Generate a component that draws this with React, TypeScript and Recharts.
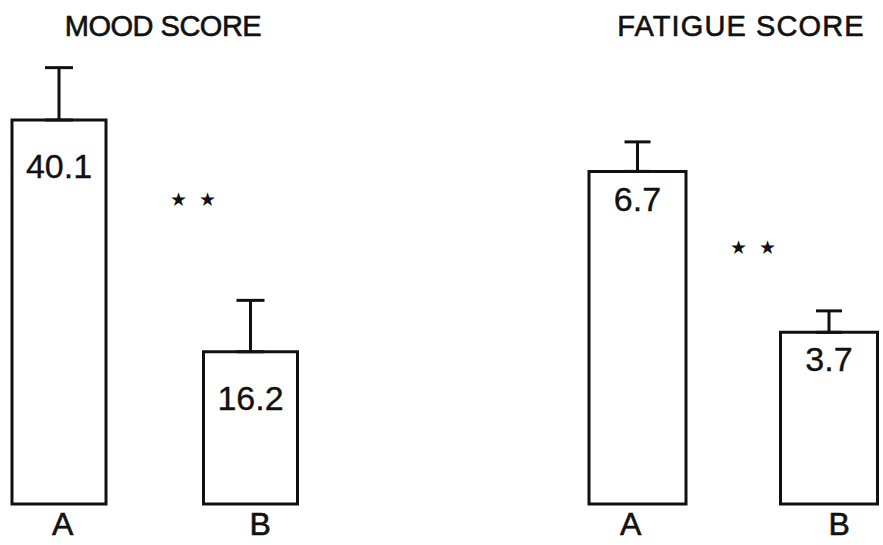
import { BarChart, Bar, XAxis, YAxis, ErrorBar, LabelList } from "recharts"

const groups = ["A", "B"]
const moodValues = [40.1, 16.2]
const moodErrors = [5.4, 5.3]
const fatigueValues = [6.7, 3.7]
const fatigueErrors = [0.55, 0.4]

const FONT = "'Liberation Sans', Arial, Helvetica, sans-serif"
const INK = "#111111"

const buildData = (values: number[], errors: number[]) =>
  groups.map((g, i) => ({ group: g, value: values[i], err: [0, errors[i]] }))

const moodData = buildData(moodValues, moodErrors)
const fatigueData = buildData(fatigueValues, fatigueErrors)

function GroupTick(props: any) {
  const { x, y, payload, index, shifts } = props
  const dx = shifts[index ?? payload.index ?? 0] || 0
  return (
    <text
      x={x + dx}
      y={y}
      dy={23}
      textAnchor="middle"
      fontSize={32}
      fontFamily={FONT}
      fill={INK}
      stroke={INK}
      strokeWidth={0.6}
    >
      {payload.value}
    </text>
  )
}

interface ScorePanelProps {
  data: { group: string; value: number; err: number[] }[]
  left: number
  top: number
  max: number
  barSize: number
  capHalf: number
  labelOffset: number
  tickShifts: number[]
}

function ScorePanel({ data, left, top, max, barSize, capHalf, labelOffset, tickShifts }: ScorePanelProps) {
  return (
    <div style={{ position: "absolute", left, top: 0 }}>
      <BarChart
        width={383}
        height={545}
        data={data}
        margin={{ top, right: 0, bottom: 0, left: 0 }}
        barCategoryGap={0}
      >
        <XAxis
          dataKey="group"
          height={41}
          axisLine={false}
          tickLine={false}
          interval={0}
          tick={<GroupTick shifts={tickShifts} />}
        />
        <YAxis hide domain={[0.5, max]} />
        <Bar
          dataKey="value"
          fill="#ffffff"
          stroke={INK}
          strokeWidth={3}
          barSize={barSize}
          isAnimationActive={false}
        >
          <ErrorBar dataKey="err" width={capHalf} stroke={INK} strokeWidth={3} direction="y" />
          <LabelList
            dataKey="value"
            position="insideTop"
            offset={labelOffset}
            fill={INK}
            stroke={INK}
            strokeWidth={0.35}
            fontSize={34}
            fontFamily={FONT}
          />
        </Bar>
      </BarChart>
    </div>
  )
}

export default function App() {
  return (
    <div
      style={{
        position: "absolute",
        left: 0,
        top: 0,
        width: 883,
        height: 545,
        overflow: "hidden",
        background: "#ffffff",
      }}
    >
      <ScorePanel
        data={moodData}
        left={-37}
        top={24}
        max={50}
        barSize={94}
        capHalf={14}
        labelOffset={34}
        tickShifts={[4, 10]}
      />
      <ScorePanel
        data={fatigueData}
        left={542}
        top={48}
        max={9}
        barSize={97}
        capHalf={13}
        labelOffset={15}
        tickShifts={[-7, 10]}
      />
      <svg width={883} height={545} style={{ position: "absolute", left: 0, top: 0, pointerEvents: "none" }}>
        <g fontFamily={FONT} fontSize={29} fill={INK} stroke={INK} strokeWidth={0.6} textAnchor="middle">
          <text x={163} y={36} letterSpacing={-0.5}>MOOD SCORE</text>
          <text x={741} y={36} letterSpacing={1.1}>FATIGUE SCORE</text>
        </g>
        <g fontSize={19} fill={INK} textAnchor="middle">
          <text x={178} y={206}>★</text>
          <text x={207} y={206}>★</text>
          <text x={738} y={254}>★</text>
          <text x={767} y={254}>★</text>
        </g>
      </svg>
    </div>
  )
}
